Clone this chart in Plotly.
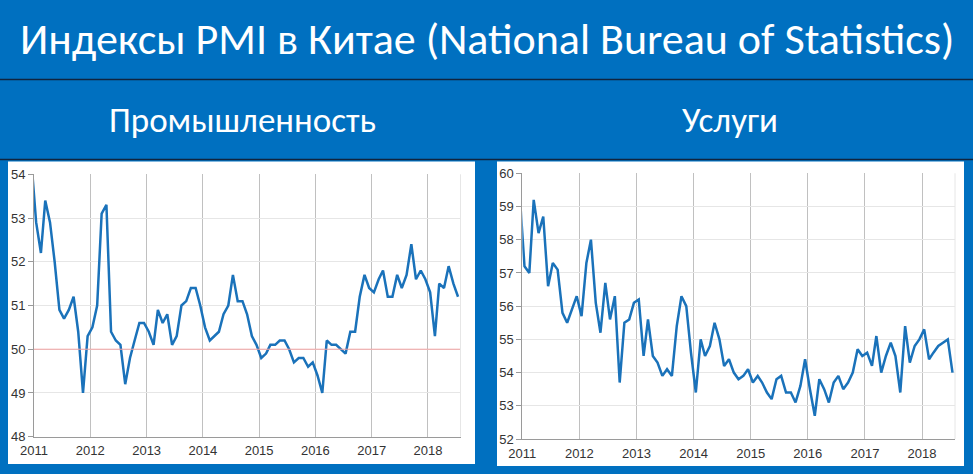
import pandas as pd
import plotly.graph_objects as go

# ---- data -------------------------------------------------------------
months = pd.date_range("2010-12-01", periods=92, freq="MS") + pd.Timedelta(days=14)

manufacturing = [
    54.3,
    52.9, 52.2, 53.4, 52.9, 52.0, 50.9, 50.7, 50.9, 51.2, 50.4, 49.0, 50.3,
    50.5, 51.0, 53.1, 53.3, 50.4, 50.2, 50.1, 49.2, 49.8, 50.2, 50.6, 50.6,
    50.4, 50.1, 50.9, 50.6, 50.8, 50.1, 50.3, 51.0, 51.1, 51.4, 51.4, 51.0,
    50.5, 50.2, 50.3, 50.4, 50.8, 51.0, 51.7, 51.1, 51.1, 50.8, 50.3, 50.1,
    49.8, 49.9, 50.1, 50.1, 50.2, 50.2, 50.0, 49.7, 49.8, 49.8, 49.6, 49.7,
    49.4, 49.0, 50.2, 50.1, 50.1, 50.0, 49.9, 50.4, 50.4, 51.2, 51.7, 51.4,
    51.3, 51.6, 51.8, 51.2, 51.2, 51.7, 51.4, 51.7, 52.4, 51.6, 51.8, 51.6,
    51.3, 50.3, 51.5, 51.4, 51.9, 51.5, 51.2,
]

services = [
    59.4,
    57.2, 57.0, 59.2, 58.2, 58.7, 56.6, 57.3, 57.1, 55.8, 55.5, 55.9, 56.3,
    55.7, 57.3, 58.0, 56.1, 55.2, 56.7, 55.6, 56.3, 53.7, 55.5, 55.6, 56.1,
    56.2, 54.5, 55.6, 54.5, 54.3, 53.9, 54.1, 53.9, 55.4, 56.3, 56.0, 54.6,
    53.4, 55.0, 54.5, 54.8, 55.5, 55.0, 54.2, 54.4, 54.0, 53.8, 53.9, 54.1,
    53.7, 53.9, 53.7, 53.4, 53.2, 53.8, 53.9, 53.4, 53.4, 53.1, 53.6, 54.4,
    53.5, 52.7, 53.8, 53.5, 53.1, 53.7, 53.9, 53.5, 53.7, 54.0, 54.7, 54.5,
    54.6, 54.2, 55.1, 54.0, 54.5, 54.9, 54.5, 53.4, 55.4, 54.3, 54.8, 55.0,
    55.3, 54.4, 54.6, 54.8, 54.9, 55.0, 54.0,
]

year_ticks = [f"{y}-01-01" for y in range(2011, 2019)]
year_labels = [str(y) for y in range(2011, 2019)]
manuf_yticks = [48, 49, 50, 51, 52, 53, 54]
serv_yticks = [52, 53, 54, 55, 56, 57, 58, 59, 60]

title_text = "Индексы PMI в Китае (National Bureau of Statistics)"
sub_left = "Промышленность"
sub_right = "Услуги"

# ---- layout helpers ---------------------------------------------------
W, H = 973, 474
def px(x):
    return x / W
def py(y):
    return 1 - y / H

BLUE = "#0070C0"
LINE = "#1A72BA"
TITLE_FONT = "Carlito, Calibri, 'Liberation Sans Narrow', 'Open Sans', sans-serif"
TICK_FONT = dict(family="'Liberation Sans', Arial, sans-serif", size=13, color="#333333")

fig = go.Figure()
fig.add_trace(go.Scatter(x=months, y=manufacturing, mode="lines",
                         line=dict(color=LINE, width=2.5), xaxis="x", yaxis="y",
                         showlegend=False, hoverinfo="x+y"))
fig.add_trace(go.Scatter(x=months, y=services, mode="lines",
                         line=dict(color=LINE, width=2.5), xaxis="x2", yaxis="y2",
                         showlegend=False, hoverinfo="x+y"))

xcommon = dict(type="date", range=["2011-01-01", "2018-07-31"], tickvals=year_ticks,
               ticktext=year_labels, showgrid=True, gridcolor="#c0c0c0", gridwidth=1,
               showline=True, linecolor="#9a9a9a", linewidth=1, ticks="",
               tickfont=TICK_FONT, zeroline=False, fixedrange=True, ticklabelstandoff=2,
               automargin=False)
ycommon = dict(showgrid=True, gridcolor="#e6e6e6", gridwidth=1, showline=True,
               linecolor="#9a9a9a", linewidth=1, ticks="outside", ticklen=5,
               tickcolor="#9a9a9a", tickfont=TICK_FONT, zeroline=False, fixedrange=True,
               automargin=False)

fig.update_layout(
    width=W, height=H, autosize=False,
    margin=dict(l=0, r=0, t=0, b=0, pad=0, autoexpand=False),
    paper_bgcolor=BLUE, plot_bgcolor="white",
    xaxis=dict(domain=[px(34), px(460.5)], anchor="y", **xcommon),
    yaxis=dict(domain=[py(436.7), py(174.3)], anchor="x", range=[48, 54],
               tickvals=manuf_yticks, **ycommon),
    xaxis2=dict(domain=[px(522.3), px(955)], anchor="y2", **xcommon),
    yaxis2=dict(domain=[py(439), py(173.3)], anchor="x2", range=[52, 60],
                tickvals=serv_yticks, **ycommon),
)

shapes = [
    # white panels
    dict(type="rect", xref="paper", yref="paper", x0=px(8), x1=px(475), y0=py(464), y1=py(161.5),
         fillcolor="white", line=dict(width=0), layer="below"),
    dict(type="rect", xref="paper", yref="paper", x0=px(497), x1=px(964), y0=py(466), y1=py(161.5),
         fillcolor="white", line=dict(width=0), layer="below"),
    # separators
    dict(type="line", xref="paper", yref="paper", x0=0, x1=1, y0=py(79.5), y1=py(79.5),
         line=dict(color="#10243f", width=1.5)),
    dict(type="line", xref="paper", yref="paper", x0=0, x1=1, y0=py(159.5), y1=py(159.5),
         line=dict(color="#10243f", width=1.5)),
    # 50 reference line
    dict(type="line", xref="x domain", yref="y", x0=0, x1=1, y0=50, y1=50,
         line=dict(color="#f2a3a3", width=1)),
    # faint right borders
    dict(type="line", xref="x domain", yref="y domain", x0=1, x1=1, y0=0, y1=1,
         line=dict(color="#e6e6e6", width=1)),
    dict(type="line", xref="x2 domain", yref="y2 domain", x0=1, x1=1, y0=0, y1=1,
         line=dict(color="#e6e6e6", width=1)),
]
fig.update_layout(shapes=shapes)

annotations = [
    dict(text=title_text, x=px(487.5), y=py(39), xref="paper", yref="paper",
         xanchor="center", yanchor="middle", showarrow=False,
         font=dict(family=TITLE_FONT, size=44, color="white")),
    dict(text=sub_left, x=px(242), y=py(120), xref="paper", yref="paper",
         xanchor="center", yanchor="middle", showarrow=False,
         font=dict(family=TITLE_FONT, size=35, color="white")),
    dict(text=sub_right, x=px(730), y=py(120), xref="paper", yref="paper",
         xanchor="center", yanchor="middle", showarrow=False,
         font=dict(family=TITLE_FONT, size=35, color="white")),
]
fig.update_layout(annotations=annotations)

fig.write_html("out.html",
               config={"displayModeBar": False},
               post_script="document.documentElement.style.margin='0';"
                           "document.body.style.margin='0';"
                           "document.body.style.overflow='hidden';")
